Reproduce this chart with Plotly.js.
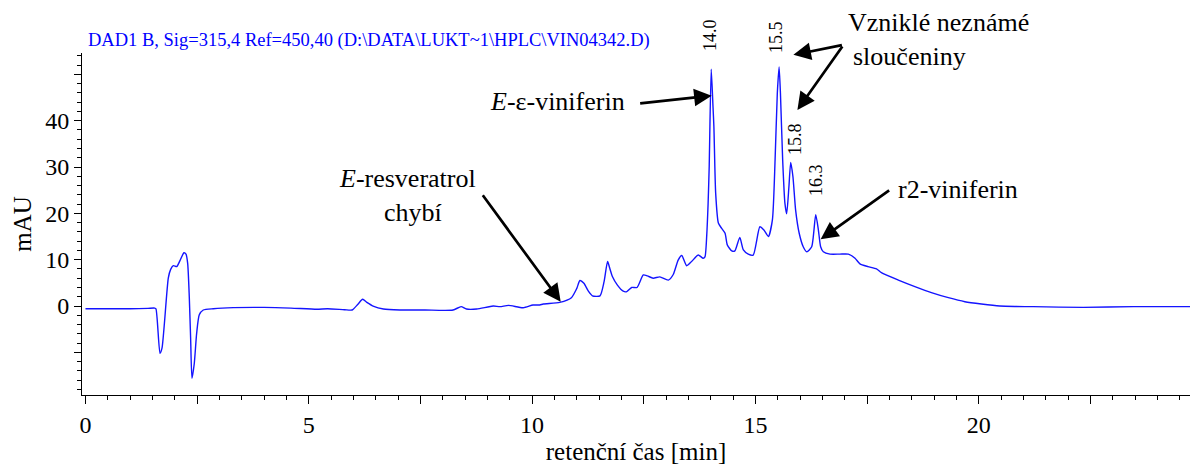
<!DOCTYPE html>
<html>
<head>
<meta charset="utf-8">
<script src="https://cdn.plot.ly/plotly-3.0.1.min.js"></script>
<style>html,body{margin:0;padding:0;background:#fff;}#chart{width:1190px;height:465px;}</style>
</head>
<body>
<div id="chart"></div>
<script>
// Retention time [min]
var timeMin = [
  0.0, 0.5, 1.0, 1.4, 1.55, 1.578, 1.668, 1.713, 1.854, 1.907, 1.966, 2.042, 2.116, 2.205, 2.250,
  2.288, 2.324, 2.355, 2.384, 2.436, 2.489, 2.548, 2.637, 2.861, 3.31, 4.0, 4.6, 5.18, 5.42, 5.80,
  5.97, 6.10, 6.205, 6.30, 6.44, 6.67, 7.04, 7.6, 8.23, 8.41, 8.53, 8.76, 9.13, 9.28, 9.47,
  9.80, 10.02, 10.17, 10.25, 10.62, 10.88, 11.0, 11.07, 11.16, 11.26, 11.35, 11.52, 11.61, 11.69, 11.74,
  11.80, 11.91, 12.04, 12.12, 12.23, 12.35, 12.49, 12.58, 12.71, 12.86, 13.05, 13.16, 13.27, 13.35, 13.46,
  13.57, 13.72, 13.83, 13.87, 13.91, 13.94, 13.965, 14.01, 14.05, 14.07, 14.11, 14.17, 14.24, 14.32, 14.37,
  14.47, 14.54, 14.65, 14.73, 14.84, 14.95, 15.10, 15.19, 15.29, 15.38, 15.44, 15.49, 15.53, 15.56, 15.61,
  15.66, 15.70, 15.75, 15.79, 15.84, 15.90, 15.98, 16.07, 16.15, 16.26, 16.35, 16.41, 16.46, 16.52, 16.67,
  16.89, 17.08, 17.23, 17.34, 17.52, 17.71, 17.82, 18.20, 18.57, 18.94, 19.32, 19.69, 20.06, 20.47, 20.81,
  21.22, 22.34, 23.46, 24.73
];
// Absorbance [mAU]
var signalMAU = [
  -0.6, -0.6, -0.6, -0.5, -0.45, -0.6, -10.2, -9.1, 6.0, 7.9, 8.7, 8.5, 9.8, 11.5, 11.2,
  9.2, 2.0, -7.3, -15.6, -12.4, -5.9, -1.9, -0.86, -0.58, -0.35, -0.3, -0.45, -0.7, -0.6, -0.8,
  -0.86, 0.4, 1.45, 0.8, 0.0, -0.65, -0.86, -0.86, -0.86, -0.14, -0.65, -0.65, 0.0, -0.14, 0.14,
  -0.36, 0.22, 0.22, 0.43, 0.8, 1.8, 3.8, 5.5, 4.9, 3.2, 2.2, 2.2, 5.2, 9.6, 8.1,
  6.3, 4.5, 3.2, 3.1, 4.0, 4.0, 6.7, 6.5, 6.0, 6.3, 5.6, 6.8, 9.9, 10.9, 8.7,
  9.6, 11.0, 10.3, 10.6, 15.3, 22.0, 30.1, 51.1, 43.0, 38.7, 24.3, 17.9, 16.8, 15.7, 13.2,
  11.9, 11.9, 14.8, 12.1, 11.2, 11.0, 17.1, 16.4, 15.0, 18.6, 31.5, 45.9, 51.6, 45.9, 31.5,
  22.2, 19.9, 25.8, 31.0, 27.9, 20.7, 15.7, 12.8, 11.7, 12.8, 19.7, 16.4, 12.8, 11.7, 11.2,
  11.2, 11.2, 10.3, 9.1, 8.5, 8.0, 7.2, 5.6, 4.2, 2.9, 1.8, 0.93, 0.43, 0.0, -0.1,
  -0.14, -0.3, -0.14, -0.14
];
var xTickVals = [0, 2.5, 5, 7.5, 10, 12.5, 15, 17.5, 20, 22.5];
var xTickText = ['0', '', '5', '', '10', '', '15', '', '20', ''];
var yTickVals = [-20, -10, 0, 10, 20, 30, 40, 50];
var yTickText = ['', '', '0', '10', '20', '30', '40', ''];
var peakLabels = ['14.0', '15.5', '15.8', '16.3'];
var titleText = 'DAD1 B, Sig=315,4 Ref=450,40 (D:\\DATA\\LUKT~1\\HPLC\\VIN04342.D)';

var FONT = '"Liberation Serif", serif';
var W = 1190, H = 465, ML = 82, MR = 0, MT = 53, MB = 70;
var PW = W - ML - MR, PH = H - MT - MB;
function px(x) { return (x - ML) / PW; }
function py(y) { return (H - MB - y) / PH; }

var trace = {
  x: timeMin, y: signalMAU, type: 'scatter', mode: 'lines',
  line: { color: '#1414ff', width: 1.4, shape: 'spline', smoothing: 0.6 },
  hoverinfo: 'x+y'
};

function textAnn(t, xp, yp, size, xanchor, angle) {
  return { xref: 'paper', yref: 'paper', x: xp, y: yp, text: t, showarrow: false,
    xanchor: xanchor || 'center', yanchor: 'middle', textangle: angle || 0,
    font: { family: FONT, size: size, color: '#000' } };
}
function arrowAnn(x, y, ax, ay) {
  return { xref: 'x', yref: 'y', x: x, y: y, ax: ax, ay: ay, text: '', showarrow: true,
    arrowhead: 2, arrowsize: 1.3, arrowwidth: 2.7, arrowcolor: '#000', standoff: 0 };
}

var anns = [
  textAnn('<i>E</i>-ε-viniferin', px(557.5), py(102), 26),
  textAnn('Vzniklé neznámé', px(846), py(23), 26, 'left'),
  textAnn('sloučeniny', px(851), py(56), 26, 'left'),
  textAnn('<i>E</i>-resveratrol', px(407.5), py(178), 26),
  textAnn('chybí', px(412.5), py(212), 26),
  textAnn('r2-viniferin', px(896), py(190), 26, 'left'),
  textAnn(peakLabels[0], px(710), py(35), 18, 'center', -90),
  textAnn(peakLabels[1], px(776), py(37), 18, 'center', -90),
  textAnn(peakLabels[2], px(795), py(139), 18, 'center', -90),
  textAnn(peakLabels[3], px(816), py(180), 18, 'center', -90),
  arrowAnn(14.02, 45.4, -73, 8),
  arrowAnn(15.85, 54.2, 50, -10),
  arrowAnn(15.94, 42.3, 46, -65),
  arrowAnn(10.64, 0.93, -79, -108),
  arrowAnn(16.46, 14.4, 70, -50)
];

var layout = {
  width: W, height: H,
  margin: { l: ML, r: MR, t: MT, b: MB, pad: 0 },
  paper_bgcolor: '#fff', plot_bgcolor: '#fff',
  showlegend: false,
  title: { text: titleText, x: 88 / W, xanchor: 'left', xref: 'container',
    y: 1 - 40 / H, yanchor: 'middle', yref: 'container',
    font: { family: FONT, size: 18.5, color: '#0000ff' } },
  xaxis: {
    range: [-0.078, 24.73], showgrid: false, zeroline: false,
    showline: true, linecolor: '#000', linewidth: 1,
    tickmode: 'array', tickvals: xTickVals, ticktext: xTickText,
    ticks: 'outside', ticklen: 8, tickwidth: 1, tickcolor: '#000',
    minor: { tickmode: 'linear', tick0: 0, dtick: 0.5, ticks: 'outside', ticklen: 4, tickwidth: 1, tickcolor: '#000' },
    tickfont: { family: FONT, size: 24, color: '#000' },
    title: { text: 'retenční čas [min]', standoff: 8, font: { family: FONT, size: 25, color: '#000' } }
  },
  yaxis: {
    range: [-19.2, 54.6], showgrid: false, zeroline: false,
    showline: true, linecolor: '#000', linewidth: 1,
    tickmode: 'array', tickvals: yTickVals, ticktext: yTickText,
    ticks: 'outside', ticklen: 7, tickwidth: 1, tickcolor: '#000',
    minor: { tickmode: 'linear', tick0: 0, dtick: 2, ticks: 'outside', ticklen: 4, tickwidth: 1, tickcolor: '#000' },
    tickfont: { family: FONT, size: 24, color: '#000' },
    title: { text: 'mAU', standoff: 6, font: { family: FONT, size: 25, color: '#000' } }
  },
  annotations: anns
};

Plotly.newPlot('chart', [trace], layout, { displayModeBar: false, staticPlot: true });
</script>
</body>
</html>
